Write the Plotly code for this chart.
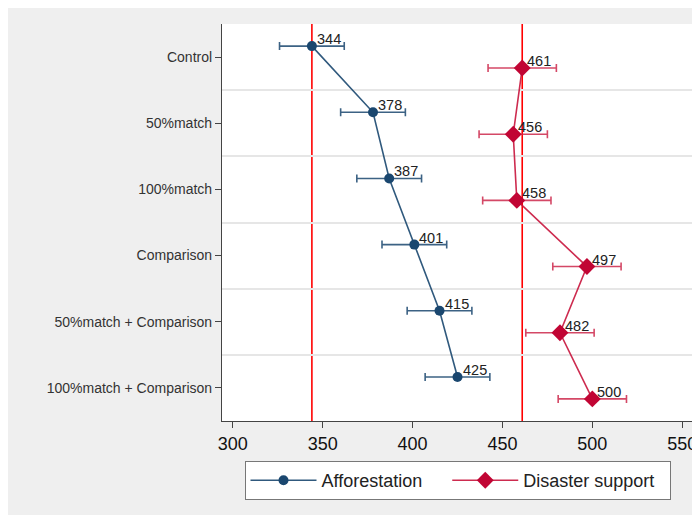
import plotly.graph_objects as go

categories = ["Control", "50%match", "100%match", "Comparison",
              "50%match + Comparison", "100%match + Comparison"]
afforestation = [344, 378, 387, 401, 415, 425]
afforestation_err = [18, 18, 18, 18, 18, 18]
disaster = [461, 456, 458, 497, 482, 500]
disaster_err = [19, 19, 19, 19, 19, 19]
x_ticks = [300, 350, 400, 450, 500, 550]
series_names = ["Afforestation", "Disaster support"]

NAVY = "#1a476f"
CRAN = "#c10534"
offset = 0.166
idx = list(range(len(categories)))
aff_y = [i - offset for i in idx]
dis_y = [i + offset for i in idx]
NB = "\u00a0"

fig = go.Figure()
fig.add_trace(go.Scatter(
    x=afforestation, y=aff_y,
    mode="lines+markers", name=series_names[0] + NB * 4,
    line=dict(color="rgba(26,71,111,0.9)", width=1.6),
    marker=dict(symbol="circle", size=10, color=NAVY),
    error_x=dict(type="data", array=afforestation_err, color="rgba(26,71,111,0.85)",
                 thickness=1.6, width=4),
))
fig.add_trace(go.Scatter(
    x=disaster, y=dis_y,
    mode="lines+markers", name=series_names[1] + NB * 2,
    line=dict(color="rgba(200,20,60,0.9)", width=1.6),
    marker=dict(symbol="diamond", size=13, color=CRAN),
    error_x=dict(type="data", array=disaster_err, color="rgba(205,40,75,0.85)",
                 thickness=1.6, width=4),
))

for xs, ys in ((afforestation, aff_y), (disaster, dis_y)):
    for xv, yv in zip(xs, ys):
        fig.add_annotation(x=xv, y=yv, text=str(xv), showarrow=False,
                           xanchor="left", yanchor="bottom", xshift=3, yshift=-3,
                           font=dict(size=14.5, color="#222"))

for v in (afforestation[0], disaster[0]):
    fig.add_shape(type="line", xref="x", yref="paper", x0=v, x1=v, y0=0, y1=1,
                  line=dict(color="#ff0000", width=1.6), layer="below")

fig.update_layout(
    width=700, height=515,
    margin=dict(l=214, r=15, t=16, b=102),
    paper_bgcolor="#efefef", plot_bgcolor="white",
    font=dict(family="Liberation Sans, Arial, sans-serif", color="#222"),
    showlegend=True,
    legend=dict(orientation="h", x=0.5, xanchor="center", y=-0.1008, yanchor="top",
                bgcolor="white", bordercolor="#777", borderwidth=1,
                font=dict(size=18, color="#222"), itemwidth=66),
    xaxis=dict(range=[294, 556], tickvals=x_ticks, ticks="outside", ticklen=6,
               tickcolor="#444", tickfont=dict(size=18, color="#111"),
               showgrid=False, zeroline=False, showline=True,
               linecolor="#444", linewidth=1.2),
    yaxis=dict(range=[5.5, -0.5], tickvals=idx, ticktext=categories,
               ticks="outside", ticklen=6, tickcolor="#444",
               tickfont=dict(size=14, color="#333"),
               showgrid=False, zeroline=False, showline=True,
               linecolor="#444", linewidth=1.2,
               minor=dict(tick0=0.5, dtick=1, showgrid=True,
                          gridcolor="#e6e6e6", gridwidth=1.5, ticklen=0)),
)

fig.write_html("out.html", post_script="document.body.style.overflow='hidden';")
